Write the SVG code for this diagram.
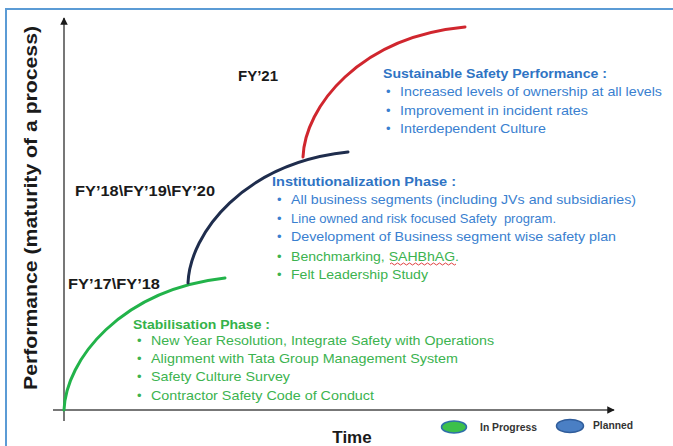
<svg xmlns="http://www.w3.org/2000/svg" width="673" height="446" viewBox="0 0 673 446">
<style>
  .fy{font-family:"Liberation Sans",Arial,sans-serif;font-weight:bold;font-size:15px;fill:#1a1a1a}
  .hb{font-family:"Liberation Sans",Arial,sans-serif;font-weight:bold;font-size:13px;fill:#2f74c4}
  .hg{font-family:"Liberation Sans",Arial,sans-serif;font-weight:bold;font-size:13px;fill:#35b24a}
  .tb{font-family:"Liberation Sans",Arial,sans-serif;font-size:13px;fill:#3a7fd0}
  .tg{font-family:"Liberation Sans",Arial,sans-serif;font-size:13px;fill:#3cb34f}
  .ax{stroke:#4a4a4a;stroke-width:1.5;fill:none}
  .lg{font-family:"Liberation Sans",Arial,sans-serif;font-weight:bold;font-size:10.5px;fill:#333}
</style>
<defs>
  <marker id="ah" viewBox="0 0 10 10" refX="9" refY="5" markerWidth="5" markerHeight="5" orient="auto">
    <path d="M0,0 L10,5 L0,10 z" fill="#1a1a1a"/>
  </marker>
</defs>
<rect x="0" y="0" width="673" height="446" fill="#ffffff"/>
<rect x="6" y="9" width="700" height="460" fill="none" stroke="#5b9bd5" stroke-width="2"/>

<g id="axes">
  <line class="ax" x1="64" y1="421" x2="64" y2="18" marker-end="url(#ah)"/>
  <line class="ax" x1="53" y1="410" x2="614" y2="410" marker-end="url(#ah)"/>
  <text x="37" y="208" transform="rotate(-90 37 208)" text-anchor="middle" font-family="Liberation Sans, Arial, sans-serif" font-weight="bold" font-size="18" fill="#1a1a1a" textLength="364" lengthAdjust="spacingAndGlyphs">Performance (maturity of a process)</text>
  <text x="352" y="443" text-anchor="middle" font-family="Liberation Sans, Arial, sans-serif" font-weight="bold" font-size="17" fill="#1a1a1a">Time</text>
</g>

<g id="connectors" fill="none" stroke-width="3" stroke-linecap="round">
  <path d="M64,410 C66,360 120,290 225,278" stroke="#22b34a"/>
  <path d="M188,283 C190,233 244,163 348,152" stroke="#1f2d4d"/>
  <path d="M303,157 C305,107 359,37 465,27" stroke="#d0262e"/>
</g>

<g id="label-fy21"><text class="fy" x="238" y="81">FY’21</text></g>
<g id="label-fy18-20"><text class="fy" x="75" y="196" textLength="140" lengthAdjust="spacingAndGlyphs">FY’18\FY’19\FY’20</text></g>
<g id="label-fy17-18"><text class="fy" x="68" y="289" textLength="92" lengthAdjust="spacingAndGlyphs">FY’17\FY’18</text></g>

<g id="sustainable">
  <text class="hb" x="383" y="78" textLength="224" lengthAdjust="spacingAndGlyphs">Sustainable Safety Performance :</text>
  <text class="tb" x="386" y="96">•</text><text class="tb" x="400" y="96" textLength="262" lengthAdjust="spacingAndGlyphs">Increased levels of ownership at all levels</text>
  <text class="tb" x="386" y="115">•</text><text class="tb" x="400" y="115" textLength="188" lengthAdjust="spacingAndGlyphs">Improvement in incident rates</text>
  <text class="tb" x="386" y="133">•</text><text class="tb" x="400" y="133" textLength="146" lengthAdjust="spacingAndGlyphs">Interdependent Culture</text>
</g>

<g id="institutionalization">
  <text class="hb" x="272" y="186" textLength="184" lengthAdjust="spacingAndGlyphs">Institutionalization Phase  :</text>
  <text class="tb" x="277" y="204">•</text><text class="tb" x="291" y="204" textLength="345" lengthAdjust="spacingAndGlyphs">All business segments (including JVs and subsidiaries)</text>
  <text class="tb" x="277" y="223">•</text><text class="tb" x="291" y="223" textLength="265" lengthAdjust="spacingAndGlyphs">Line owned and risk focused Safety&#160; program.</text>
  <text class="tb" x="277" y="241">•</text><text class="tb" x="291" y="241" textLength="325" lengthAdjust="spacingAndGlyphs">Development of Business segment wise safety plan</text>
  <text class="tg" x="277" y="261">•</text><text class="tg" x="291" y="261" textLength="168" lengthAdjust="spacingAndGlyphs">Benchmarking, SAHBhAG.</text>
  <path d="M390,264 q1.5,-2 3,0 t3,0 t3,0 t3,0 t3,0 t3,0 t3,0 t3,0 t3,0 t3,0 t3,0 t3,0 t3,0 t3,0 t3,0 t3,0 t3,0 t3,0 t3,0 t3,0 t3,0 t3,0" fill="none" stroke="#e04040" stroke-width="1"/>
  <text class="tg" x="277" y="279">•</text><text class="tg" x="291" y="279" textLength="137" lengthAdjust="spacingAndGlyphs">Felt Leadership Study</text>
</g>

<g id="stabilisation">
  <text class="hg" x="133" y="329" textLength="137" lengthAdjust="spacingAndGlyphs">Stabilisation Phase :</text>
  <text class="tg" x="137" y="345">•</text><text class="tg" x="151" y="345" textLength="343" lengthAdjust="spacingAndGlyphs">New Year Resolution, Integrate Safety with Operations</text>
  <text class="tg" x="137" y="363">•</text><text class="tg" x="151" y="363" textLength="307" lengthAdjust="spacingAndGlyphs">Alignment with Tata Group Management System</text>
  <text class="tg" x="137" y="381">•</text><text class="tg" x="151" y="381" textLength="139" lengthAdjust="spacingAndGlyphs">Safety Culture Survey</text>
  <text class="tg" x="137" y="400">•</text><text class="tg" x="151" y="400" textLength="223" lengthAdjust="spacingAndGlyphs">Contractor Safety Code of Conduct</text>
</g>

<g id="legend-in-progress">
  <ellipse cx="454" cy="427" rx="12.5" ry="6" fill="#3cc04a" stroke="#2e6fa8" stroke-width="1.5"/>
  <text class="lg" x="480" y="431" textLength="57" lengthAdjust="spacingAndGlyphs">In Progress</text>
</g>
<g id="legend-planned">
  <ellipse cx="570" cy="426" rx="13.5" ry="6.5" fill="#4a7fc4" stroke="#2f5c9a" stroke-width="1.5"/>
  <text class="lg" x="593" y="429" textLength="40" lengthAdjust="spacingAndGlyphs">Planned</text>
</g>
</svg>
